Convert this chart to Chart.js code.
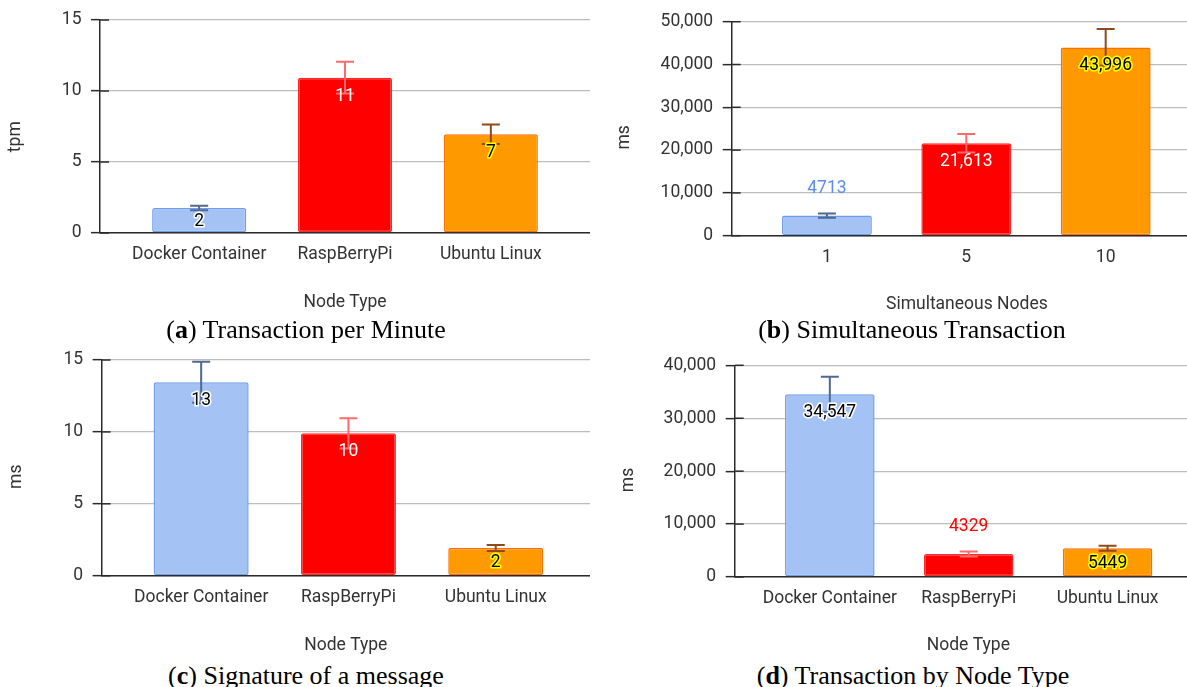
<!DOCTYPE html>
<html>
<head>
<meta charset="utf-8">
<title>Blockchain node benchmarks</title>
<script src="https://cdn.jsdelivr.net/npm/chart.js@4.4.1/dist/chart.umd.min.js"></script>
<style>
  html, body { margin: 0; padding: 0; background: #ffffff; }
  body { width: 1187px; height: 687px; position: relative; overflow: hidden; }
  .panel { position: absolute; }
  .panel canvas { display: block; }
  .caption {
    position: absolute;
    font-family: "Liberation Serif", "DejaVu Serif", serif;
    font-size: 26px;
    line-height: 1;
    color: #000;
    white-space: nowrap;
    transform: translateX(-50%);
  }
</style>
</head>
<body>
<div class="panel" style="left:0;top:0"><canvas id="chartA" width="590" height="320"></canvas></div>
<div class="panel" style="left:590px;top:0"><canvas id="chartB" width="612" height="320"></canvas></div>
<div class="panel" style="left:0;top:340px"><canvas id="chartC" width="590" height="320"></canvas></div>
<div class="panel" style="left:590px;top:340px"><canvas id="chartD" width="612" height="320"></canvas></div>

<div class="caption" id="capA" style="left:306px;top:317px"></div>
<div class="caption" id="capB" style="left:912px;top:317px"></div>
<div class="caption" id="capC" style="left:306px;top:663px"></div>
<div class="caption" id="capD" style="left:913px;top:663px"></div>

<script>
// ---- data ----
const categories = ['Docker Container', 'RaspBerryPi', 'Ubuntu Linux'];
const nodeCounts = ['1', '5', '10'];

const tpmValues = [1.76, 10.94, 6.95];
const tpmErrors = [0.16, 1.12, 0.69];

const simValues = [4713, 21613, 43996];
const simErrors = [500, 2150, 4300];

const signValues = [13.45, 9.9, 1.93];
const signErrors = [1.43, 1.05, 0.21];

const nodeTxValues = [34547, 4329, 5449];
const nodeTxErrors = [3300, 470, 470];

const smallTicks = [0, 5, 10, 15];
const simTicks = [0, 10000, 20000, 30000, 40000, 50000];
const nodeTxTicks = [0, 10000, 20000, 30000, 40000];

const captionLetters = ['a', 'b', 'c', 'd'];
const captionTexts = ['Transaction per Minute', 'Simultaneous Transaction', 'Signature of a message', 'Transaction by Node Type'];

// ---- styling ----
const FONT = 'Roboto, "Noto Sans", sans-serif';
const FONT_SIZE = 17.5;
const TEXT_COLOR = '#333333';
const AXIS_COLOR = '#2b2b2b';
const GRID_COLOR = '#bdbdbd';

const barFills = ['#a4c2f4', '#ff0000', '#ff9900'];
const barEdges = ['#6d9eeb', '#ff2a2a', '#ff6d01'];
const errorColors = ['#4e6a90', '#ff6a6a', '#8e4a1c'];
const insideLabel = [
  { fill: '#000000', halo: '#ffffff' },
  { fill: '#ffffff', halo: null },
  { fill: '#000000', halo: '#ffff00' }
];
const outsideLabel = ['#5b8def', '#ff0000', '#ff9900'];

Chart.defaults.font.family = FONT;
Chart.defaults.font.size = FONT_SIZE;
Chart.defaults.color = TEXT_COLOR;

const X_SCALE_HEIGHT = 80;

function groupDigits(v) {
  return v >= 10000 ? v.toLocaleString('en-US') : String(v);
}
function roundLabel(v) {
  return String(Math.round(v));
}

// error bars, value labels, inner tick stubs and the rotated y title
function panelDecor(spec) {
  return {
    id: 'panelDecor',
    afterDatasetsDraw(chart) {
      const ctx = chart.ctx;
      const yScale = chart.scales.y;
      const ds = chart.data.datasets[0];
      const meta = chart.getDatasetMeta(0);
      ctx.save();
      // error bars
      meta.data.forEach((el, i) => {
        const v = ds.data[i].y;
        const e = ds.errors[i];
        const hi = yScale.getPixelForValue(v + e);
        const lo = yScale.getPixelForValue(v - e);
        ctx.strokeStyle = errorColors[i];
        ctx.lineWidth = 2;
        ctx.beginPath();
        ctx.moveTo(el.x, hi); ctx.lineTo(el.x, lo);
        ctx.moveTo(el.x - 9, hi); ctx.lineTo(el.x + 9, hi);
        ctx.moveTo(el.x - 9, lo); ctx.lineTo(el.x + 9, lo);
        ctx.stroke();
      });
      // value labels
      ctx.font = FONT_SIZE + 'px ' + FONT;
      ctx.textAlign = 'center';
      ctx.textBaseline = 'middle';
      ctx.lineJoin = 'round';
      meta.data.forEach((el, i) => {
        const v = ds.data[i].y;
        const text = spec.format(v);
        const top = el.y, base = el.base;
        const h = base - top;
        if (h >= 24) {
          const cy = Math.min(top + 18.5, (top + base) / 2 + 1);
          const st = insideLabel[i];
          if (st.halo) {
            ctx.strokeStyle = st.halo;
            ctx.lineWidth = 3;
            ctx.strokeText(text, el.x, cy);
          }
          ctx.fillStyle = st.fill;
          ctx.fillText(text, el.x, cy);
        } else {
          ctx.fillStyle = outsideLabel[i];
          ctx.fillText(text, el.x, top - 27);
        }
      });
      ctx.restore();
    },
    afterDraw(chart) {
      const ctx = chart.ctx;
      const area = chart.chartArea;
      const yScale = chart.scales.y;
      ctx.save();
      ctx.strokeStyle = AXIS_COLOR;
      ctx.lineWidth = 1.5;
      yScale.ticks.forEach(t => {
        const py = yScale.getPixelForValue(t.value);
        ctx.beginPath();
        ctx.moveTo(area.left, py);
        ctx.lineTo(area.left + 9, py);
        ctx.stroke();
      });
      ctx.translate(spec.yTitleAt[0], spec.yTitleAt[1]);
      ctx.rotate(-Math.PI / 2);
      ctx.font = FONT_SIZE + 'px ' + FONT;
      ctx.fillStyle = TEXT_COLOR;
      ctx.textAlign = 'center';
      ctx.textBaseline = 'middle';
      ctx.fillText(spec.yTitle, 0, 0);
      ctx.restore();
    }
  };
}

function buildPanel(spec) {
  const canvas = document.getElementById(spec.canvas);
  const H = canvas.height;
  const lineH = FONT_SIZE * 1.2;
  return new Chart(canvas, {
    type: 'bar',
    data: {
      datasets: [{
        data: spec.values.map((v, i) => ({ x: i, y: v })),
        errors: spec.errors,
        backgroundColor: barFills,
        borderColor: barEdges,
        borderWidth: 1.5,
        borderRadius: 2,
        borderSkipped: false,
        barPercentage: 0.645,
        categoryPercentage: 1
      }]
    },
    options: {
      responsive: false,
      animation: false,
      events: [],
      layout: {
        padding: { top: spec.area.top, left: 0, right: 0, bottom: H - spec.area.bottom - X_SCALE_HEIGHT }
      },
      plugins: { legend: { display: false }, tooltip: { enabled: false } },
      scales: {
        x: {
          type: 'linear',
          offset: false,
          min: spec.xRange[0],
          max: spec.xRange[1],
          afterBuildTicks: s => { s.ticks = spec.labels.map((_, i) => ({ value: i })); },
          afterFit: s => { s.height = X_SCALE_HEIGHT; },
          grid: { display: false, drawTicks: false, offset: false },
          border: { display: true, color: AXIS_COLOR, width: 1.5 },
          ticks: {
            autoSkip: false,
            maxRotation: 0,
            padding: 11.5,
            color: TEXT_COLOR,
            callback: v => spec.labels[v]
          },
          title: {
            display: true,
            text: spec.xTitle,
            color: TEXT_COLOR,
            padding: { top: 0, bottom: spec.area.bottom + X_SCALE_HEIGHT - spec.xTitleY - lineH / 2 }
          }
        },
        y: {
          min: spec.yTicks[0],
          max: spec.yTicks[spec.yTicks.length - 1],
          afterBuildTicks: s => { s.ticks = spec.yTicks.map(v => ({ value: v })); },
          afterFit: s => { s.width = spec.area.left; },
          grid: { color: GRID_COLOR, lineWidth: 1.3, tickLength: 9, tickColor: AXIS_COLOR, tickWidth: 1.5 },
          border: { display: true, color: AXIS_COLOR, width: 1.5 },
          ticks: {
            padding: 9.5,
            color: TEXT_COLOR,
            callback: v => v.toLocaleString('en-US')
          }
        }
      }
    },
    plugins: [panelDecor(spec)]
  });
}

buildPanel({
  canvas: 'chartA', labels: categories, values: tpmValues, errors: tpmErrors,
  yTicks: smallTicks, format: roundLabel,
  xTitle: 'Node Type', yTitle: 'tpm',
  area: { left: 100, top: 20, bottom: 233 }, xRange: [-0.68, 2.68],
  xTitleY: 302.5, yTitleAt: [15.8, 136.7]
});
buildPanel({
  canvas: 'chartB', labels: nodeCounts, values: simValues, errors: simErrors,
  yTicks: simTicks, format: groupDigits,
  xTitle: 'Simultaneous Nodes', yTitle: 'ms',
  area: { left: 141.7, top: 21.7, bottom: 235.7 }, xRange: [-0.683, 2.691],
  xTitleY: 305, yTitleAt: [34.3, 137.3]
});
buildPanel({
  canvas: 'chartC', labels: categories, values: signValues, errors: signErrors,
  yTicks: smallTicks, format: roundLabel,
  xTitle: 'Node Type', yTitle: 'ms',
  area: { left: 101.6, top: 20, bottom: 235.7 }, xRange: [-0.676, 2.64],
  xTitleY: 306, yTitleAt: [17, 136.7]
});
buildPanel({
  canvas: 'chartD', labels: categories, values: nodeTxValues, errors: nodeTxErrors,
  yTicks: nodeTxTicks, format: groupDigits,
  xTitle: 'Node Type', yTitle: 'ms',
  area: { left: 144.7, top: 25.3, bottom: 237 }, xRange: [-0.685, 2.68],
  xTitleY: 306, yTitleAt: [38.6, 140]
});

// sub-figure captions
['capA', 'capB', 'capC', 'capD'].forEach((id, i) => {
  const el = document.getElementById(id);
  const b = document.createElement('b');
  b.textContent = captionLetters[i];
  el.append('(', b, ') ' + captionTexts[i]);
});
</script>
</body>
</html>
